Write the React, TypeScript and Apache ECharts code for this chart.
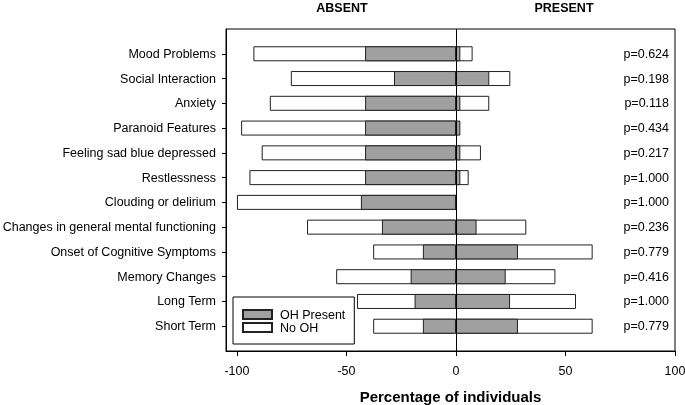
import React, { useEffect, useRef } from 'react';
import * as echarts from 'echarts';

const categories = [
  'Mood Problems',
  'Social Interaction',
  'Anxiety',
  'Paranoid Features',
  'Feeling sad blue depressed',
  'Restlessness',
  'Clouding or delirium',
  'Changes in general mental functioning',
  'Onset of Cognitive Symptoms',
  'Memory Changes',
  'Long Term',
  'Short Term',
];

const pValues = [
  'p=0.624', 'p=0.198', 'p=0.118', 'p=0.434', 'p=0.217', 'p=1.000',
  'p=1.000', 'p=0.236', 'p=0.779', 'p=0.416', 'p=1.000', 'p=0.779',
];

// Percentage of individuals with the symptom ABSENT (drawn to the left)
const noOhAbsent = [92.5, 75.4, 85, 98.1, 88.7, 94.3, 100, 68, 37.8, 54.7, 45.2, 37.8];
const ohAbsent = [41.5, 28.3, 41.5, 41.5, 41.5, 41.5, 43.4, 33.8, 15.1, 20.7, 18.9, 15.1];
// Percentage of individuals with the symptom PRESENT (drawn to the right)
const noOhPresent = [7.6, 24.8, 15.2, 0, 11.4, 5.8, 0, 32.1, 62.4, 45.4, 54.8, 62.4];
const ohPresent = [2, 15.2, 2, 2, 2, 2, 0, 9.4, 28.3, 22.7, 24.7, 28.3];

const xTicks = [-100, -50, 0, 50, 100];

const FONT = '"Liberation Sans", Arial, Helvetica, sans-serif';

export default function App() {
  const ref = useRef<HTMLDivElement>(null);

  useEffect(() => {
    const chart = echarts.init(ref.current as HTMLDivElement, null, { renderer: 'svg' });
    const pad = (arr: (number | string)[]) => ['-', ...arr, '-'];
    const neg = (arr: number[]) => arr.map((v) => -v);
    const yCats = ['', ...categories, ''];
    const pCats = ['', ...pValues, ''];

    const GREY = '#a0a0a0';
    const EDGE = '#222';
    const base = {
      type: 'bar',
      barWidth: 15,
      barGap: '-100%',
      silent: true,
    };

    chart.setOption({
      animation: false,
      textStyle: { fontFamily: FONT },
      grid: {
        left: 226,
        right: 10,
        top: 29,
        bottom: 54,
        show: true,
        borderColor: '#000',
        borderWidth: 1,
        backgroundColor: 'transparent',
        containLabel: false,
        outerBoundsMode: 'none',
      },
      legend: {
        orient: 'vertical',
        left: 233,
        top: 297,
        itemWidth: 29,
        itemHeight: 9,
        itemGap: 0,
        padding: [11, 9, 10, 9],
        borderColor: '#000',
        borderWidth: 1,
        backgroundColor: '#fff',
        textStyle: { fontSize: 12.5, lineHeight: 13, color: '#000', fontFamily: FONT, padding: [0, 0, 0, 3] },
        data: [
          { name: 'OH Present', icon: 'rect' },
          { name: 'No OH', icon: 'rect' },
        ],
      },
      graphic: [
        {
          type: 'text',
          x: 342,
          y: 1,
          style: {
            text: 'ABSENT',
            fontSize: 12.5,
            fontWeight: 'bold',
            fontFamily: FONT,
            fill: '#000',
            textAlign: 'center',
            textVerticalAlign: 'top',
          },
        },
        {
          type: 'text',
          x: 564,
          y: 1,
          style: {
            text: 'PRESENT',
            fontSize: 12.5,
            fontWeight: 'bold',
            fontFamily: FONT,
            fill: '#000',
            textAlign: 'center',
            textVerticalAlign: 'top',
          },
        },
      ],
      xAxis: {
        type: 'value',
        min: -105,
        max: 100,
        name: 'Percentage of individuals',
        nameLocation: 'middle',
        nameGap: 38,
        nameTextStyle: { fontSize: 15, fontWeight: 'bold', color: '#000', fontFamily: FONT },
        axisLine: { show: true, onZero: false, lineStyle: { color: '#000', width: 1 } },
        axisTick: { show: true, customValues: xTicks, length: 5, lineStyle: { color: '#000' } },
        axisLabel: { customValues: xTicks, fontSize: 12.5, color: '#000', margin: 13, fontFamily: FONT },
        splitLine: { show: false },
      },
      yAxis: [
        {
          type: 'category',
          inverse: true,
          boundaryGap: false,
          data: yCats,
          axisLine: { show: true, onZero: false, lineStyle: { color: '#000', width: 1 } },
          axisTick: {
            show: true,
            length: 4,
            interval: (_i: number, v: string) => v !== '',
            lineStyle: { color: '#000' },
          },
          axisLabel: { interval: 0, fontSize: 12.5, color: '#000', margin: 10, fontFamily: FONT },
          splitLine: { show: false },
        },
        {
          type: 'category',
          inverse: true,
          boundaryGap: false,
          position: 'right',
          data: pCats,
          axisLine: { show: false, onZero: false },
          axisTick: { show: false },
          axisLabel: { interval: 0, inside: true, margin: 6, fontSize: 12.5, color: '#000', fontFamily: FONT },
          splitLine: { show: false },
        },
      ],
      series: [
        {
          ...base,
          name: 'No OH',
          data: pad(neg(noOhAbsent)),
          itemStyle: { color: '#fff', borderColor: EDGE, borderWidth: 1 },
        },
        {
          ...base,
          name: 'No OH',
          data: pad(noOhPresent),
          itemStyle: { color: '#fff', borderColor: EDGE, borderWidth: 1 },
        },
        {
          ...base,
          name: 'OH Present',
          data: pad(neg(ohAbsent)),
          itemStyle: { color: GREY, borderColor: EDGE, borderWidth: 1 },
        },
        {
          ...base,
          name: 'OH Present',
          data: pad(ohPresent),
          itemStyle: { color: GREY, borderColor: EDGE, borderWidth: 1 },
          markLine: {
            silent: true,
            symbol: ['none', 'none'],
            label: { show: false },
            lineStyle: { color: '#000', type: 'solid', width: 1 },
            data: [{ xAxis: 0 }],
          },
        },
      ],
    });

    return () => chart.dispose();
  }, []);

  return (
    <div
      ref={ref}
      style={{ position: 'fixed', left: 0, top: 0, width: 685, height: 405 }}
    />
  );
}
